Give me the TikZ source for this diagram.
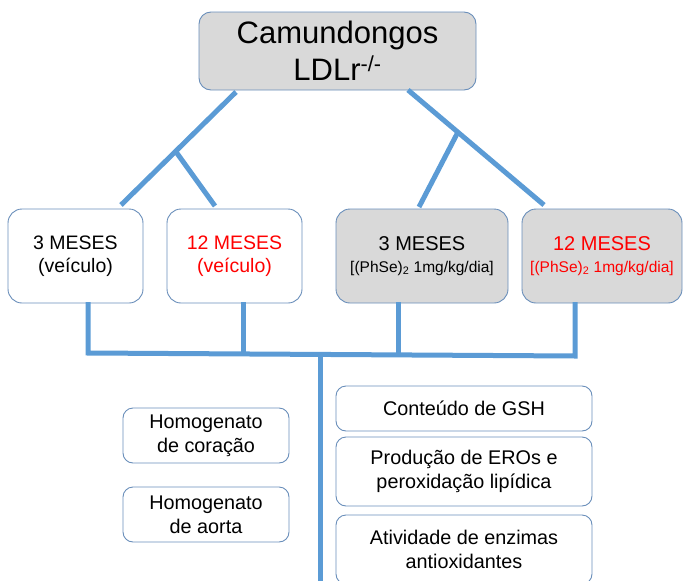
\documentclass[tikz,border=0pt]{standalone}
\usepackage{fontspec}
\setmainfont{Liberation Sans}
\definecolor{lineblue}{RGB}{91,155,213}
\definecolor{edgeblue}{RGB}{105,142,186}
\definecolor{boxgray}{RGB}{217,217,217}
\definecolor{txtred}{RGB}{255,0,0}
\begin{document}
\begin{tikzpicture}[x=1pt,y=-1pt,
  box/.style={draw=edgeblue,line width=0.9pt,rounded corners=14pt,align=center,inner sep=0pt},
  smallbox/.style={box,rounded corners=10pt},
  conn/.style={draw=lineblue,line width=5pt},
  midfont/.style={font=\fontsize{19.5}{23}\selectfont},
  lowfont/.style={font=\fontsize{19.8}{24}\selectfont}]
\useasboundingbox (0,0) rectangle (683,581);
% top
\node[box,fill=boxgray,minimum width=277pt,minimum height=78pt,rounded corners=12pt,
      font=\fontsize{31}{37}\selectfont] (top) at (337.5,51) {Camundongos\\LDLr\textsuperscript{-/-}};
% middle row
\node[box,midfont,minimum width=135pt,minimum height=94pt] (b1) at (75.5,256) {3 MESES\\(veículo)};
\node[box,midfont,text=txtred,minimum width=135pt,minimum height=94pt] (b2) at (234.5,256) {12 MESES\\(veículo)};
\node[box,fill=boxgray,font=\fontsize{20}{22}\selectfont,minimum width=172pt,minimum height=94pt] (b3) at (422,256)
  {3 MESES\\{\fontsize{15.5}{17}\selectfont [(PhSe)\textsubscript{2} 1mg/kg/dia]}};
\node[box,fill=boxgray,text=txtred,font=\fontsize{20}{22}\selectfont,minimum width=160pt,minimum height=94pt] (b4) at (602,256)
  {12 MESES\\{\fontsize{15.5}{17}\selectfont [(PhSe)\textsubscript{2} 1mg/kg/dia]}};
% bottom left
\node[smallbox,lowfont,minimum width=166pt,minimum height=55pt] (hc) at (206,435.5) {Homogenato\\de coração};
\node[smallbox,lowfont,minimum width=166pt,minimum height=55pt] (ha) at (206,514.5) {Homogenato\\de aorta};
% bottom right
\node[smallbox,lowfont,minimum width=256pt,minimum height=45pt] (r1) at (464,408.5) {Conteúdo de GSH};
\node[smallbox,lowfont,minimum width=256pt,minimum height=69pt] (r2) at (464,471.5) {Produção de EROs e\\peroxidação lipídica};
\node[smallbox,lowfont,minimum width=256pt,minimum height=69pt] (r3) at (464,549.5) {Atividade de enzimas\\antioxidantes};
% connector points
\coordinate (la) at (236,92);
\coordinate (lb) at (121,205);
\coordinate (lj) at (175.4,151);
\coordinate (lc) at (215,206);
\coordinate (ra) at (408,90);
\coordinate (rb) at (544,205);
\coordinate (rj) at (458,132);
\coordinate (rc) at (419,207);
\coordinate (d1) at (88,302);
\coordinate (e1) at (88,353);
\coordinate (d2) at (243,302);
\coordinate (e2) at (243,354);
\coordinate (d3) at (398,302);
\coordinate (e3) at (398,355);
\coordinate (d4) at (575,302);
\coordinate (e4) at (575,356);
\coordinate (m1) at (320,354.5);
\coordinate (m2) at (320,590);
% connectors
\draw[conn] (la) -- (lb);
\draw[conn] (lj) -- (lc);
\draw[conn] (ra) -- (rb);
\draw[conn] (rj) -- (rc);
\draw[conn,line join=miter] (d1) -- (e1) -- (e4) -- (d4);
\draw[conn] (d2) -- (e2);
\draw[conn] (d3) -- (e3);
\draw[conn] (m1) -- (m2);
\end{tikzpicture}
\end{document}
